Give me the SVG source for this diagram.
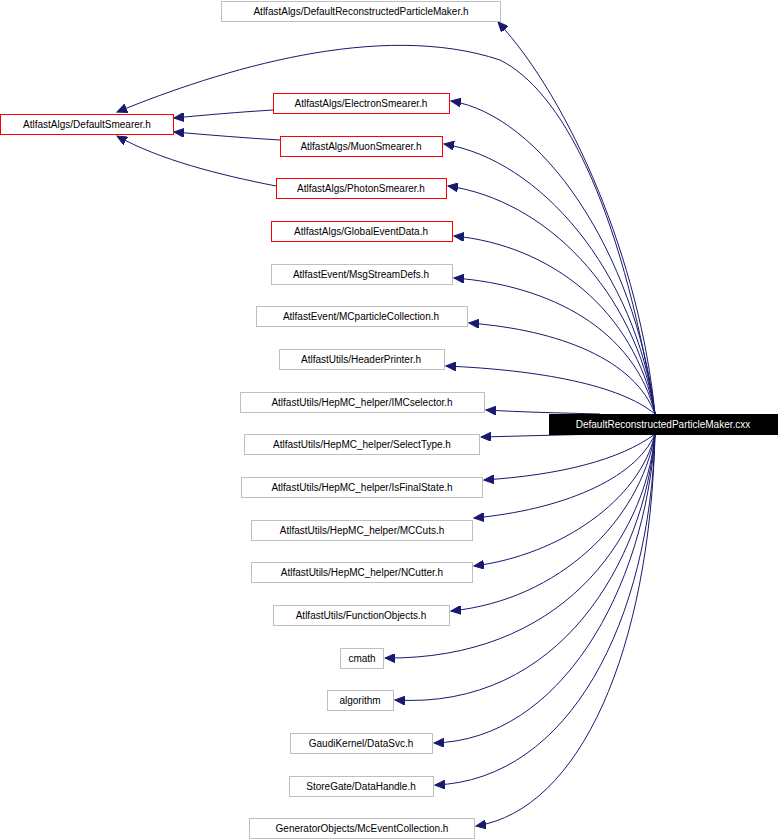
<svg xmlns="http://www.w3.org/2000/svg" width="778" height="840" viewBox="0 0 778 840">
<style>
text{font-family:"Liberation Sans",Arial,sans-serif;font-size:10px;text-anchor:middle;fill:#000}
.g{fill:#fff;stroke:#bfbfbf}
.r{fill:#fff;stroke:#ff0000}
.e{fill:none;stroke:#191970;stroke-width:1}
</style>
<defs>
<marker id="a" markerUnits="userSpaceOnUse" markerWidth="11" markerHeight="9" refX="10" refY="4.5" orient="auto"><path d="M0,0L10,4.5L0,9z" fill="#191970" stroke="#191970"/></marker>
</defs>
<rect x="0" y="0" width="778" height="840" fill="#fff"/>
<g id="edges">
<path class="e" marker-end="url(#a)" d="M655,414 C640,260 570,100 498,22"/>
<path class="e" marker-end="url(#a)" d="M655,414 C620,200 560,90 500,60 C380,20 220,70 117,112"/>
<path class="e" marker-end="url(#a)" d="M273,110 C240,112 205,115 174,118"/>
<path class="e" marker-end="url(#a)" d="M280,140 C245,138 210,135 174,132"/>
<path class="e" marker-end="url(#a)" d="M276,186 C220,175 160,160 117,136"/>
<path class="e" marker-end="url(#a)" d="M655,414 C635,250 540,115 451,101"/>
<path class="e" marker-end="url(#a)" d="M655,414 C635,270 540,160 444,144"/>
<path class="e" marker-end="url(#a)" d="M655,414 C635,290 545,200 448,186"/>
<path class="e" marker-end="url(#a)" d="M655,414 C635,310 550,245 454,236"/>
<path class="e" marker-end="url(#a)" d="M655,414 C635,330 550,285 454,278"/>
<path class="e" marker-end="url(#a)" d="M655,414 C635,360 560,330 469,323"/>
<path class="e" marker-end="url(#a)" d="M655,414 C620,385 540,370 446,366"/>
<path class="e" marker-end="url(#a)" d="M600,414 C560,413 520,412 486,410"/>
<path class="e" marker-end="url(#a)" d="M600,434 C560,435 520,436 481,437"/>
<path class="e" marker-end="url(#a)" d="M655,434 C620,460 560,475 484,480"/>
<path class="e" marker-end="url(#a)" d="M655,434 C635,480 560,510 474,518"/>
<path class="e" marker-end="url(#a)" d="M655,434 C640,500 560,555 474,566"/>
<path class="e" marker-end="url(#a)" d="M655,434 C640,520 560,600 451,611"/>
<path class="e" marker-end="url(#a)" d="M655,434 C645,540 560,660 385,658"/>
<path class="e" marker-end="url(#a)" d="M655,434 C645,560 560,710 395,700"/>
<path class="e" marker-end="url(#a)" d="M655,434 C645,590 560,740 434,743"/>
<path class="e" marker-end="url(#a)" d="M655,434 C650,620 570,780 435,785"/>
<path class="e" marker-end="url(#a)" d="M655,434 C650,650 580,810 476,826"/>
</g>
<g id="n0"><rect class="g" x="221.5" y="1.5" width="279" height="20"/><text x="361" y="15">AtlfastAlgs/DefaultReconstructedParticleMaker.h</text></g>
<g id="n1"><rect class="r" x="0.5" y="114.5" width="173" height="20"/><text x="87" y="128">AtlfastAlgs/DefaultSmearer.h</text></g>
<g id="n2"><rect class="r" x="273.5" y="93.5" width="176" height="20"/><text x="361" y="107">AtlfastAlgs/ElectronSmearer.h</text></g>
<g id="n3"><rect class="r" x="280.5" y="136.5" width="162" height="20"/><text x="361" y="150">AtlfastAlgs/MuonSmearer.h</text></g>
<g id="n4"><rect class="r" x="276.5" y="178.5" width="170" height="20"/><text x="361" y="192">AtlfastAlgs/PhotonSmearer.h</text></g>
<g id="n5"><rect class="r" x="271.5" y="221.5" width="181" height="20"/><text x="361" y="235">AtlfastAlgs/GlobalEventData.h</text></g>
<g id="n6"><rect class="g" x="271.5" y="264.5" width="181" height="20"/><text x="361" y="278">AtlfastEvent/MsgStreamDefs.h</text></g>
<g id="n7"><rect class="g" x="256.5" y="306.5" width="211" height="20"/><text x="361" y="320">AtlfastEvent/MCparticleCollection.h</text></g>
<g id="n8"><rect class="g" x="279.5" y="349.5" width="165" height="20"/><text x="361" y="363">AtlfastUtils/HeaderPrinter.h</text></g>
<g id="n9"><rect class="g" x="240.5" y="392.5" width="244" height="20"/><text x="362" y="406">AtlfastUtils/HepMC_helper/IMCselector.h</text></g>
<g id="n10"><rect class="g" x="244.5" y="434.5" width="235" height="20"/><text x="362" y="448">AtlfastUtils/HepMC_helper/SelectType.h</text></g>
<g id="n11"><rect class="g" x="241.5" y="477.5" width="241" height="20"/><text x="362" y="491">AtlfastUtils/HepMC_helper/IsFinalState.h</text></g>
<g id="n12"><rect class="g" x="251.5" y="520.5" width="221" height="20"/><text x="362" y="534">AtlfastUtils/HepMC_helper/MCCuts.h</text></g>
<g id="n13"><rect class="g" x="251.5" y="562.5" width="221" height="20"/><text x="362" y="576">AtlfastUtils/HepMC_helper/NCutter.h</text></g>
<g id="n14"><rect class="g" x="273.5" y="605.5" width="176" height="20"/><text x="361" y="619">AtlfastUtils/FunctionObjects.h</text></g>
<g id="n15"><rect class="g" x="340.5" y="648.5" width="43" height="20"/><text x="362" y="662">cmath</text></g>
<g id="n16"><rect class="g" x="327.5" y="690.5" width="66" height="20"/><text x="360" y="704">algorithm</text></g>
<g id="n17"><rect class="g" x="290.5" y="733.5" width="142" height="20"/><text x="361" y="747">GaudiKernel/DataSvc.h</text></g>
<g id="n18"><rect class="g" x="289.5" y="776.5" width="144" height="20"/><text x="361" y="790">StoreGate/DataHandle.h</text></g>
<g id="n19"><rect class="g" x="249.5" y="818.5" width="225" height="20"/><text x="362" y="832">GeneratorObjects/McEventCollection.h</text></g>
<g id="main"><rect x="549.5" y="414.5" width="228" height="20" fill="#000" stroke="#000"/><text x="663" y="428" style="fill:#fff">DefaultReconstructedParticleMaker.cxx</text></g>
</svg>
